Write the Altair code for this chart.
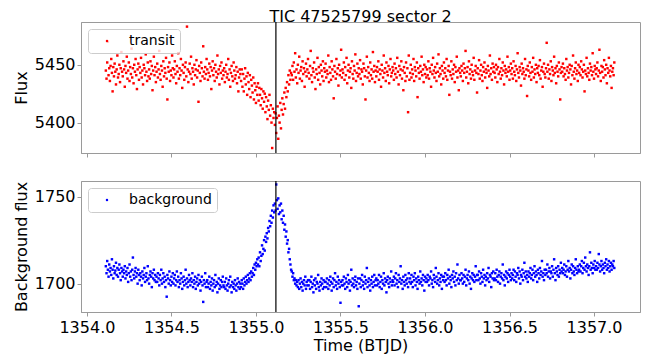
import altair as alt
import pandas as pd

# --- data ---
t_start = 1354.112      # first cadence time (BTJD)
cadence = 0.004         # days between plotted cadences
transit_time = 1355.118 # vertical marker
flux_base = 5400
bg_base = 1680

flux_off = [
    45, 38, 52, 70, 41, 47, 36, 49, 55, 43, 27, 48, 40, 51, 44, 33, 46, 58, 39, 42, 50, 35, 47, 61, 44,
    40, 53, 46, 31, 49, 43, 57, 38, 45, 52, 36, 48, 42, 64, 39, 47, 34, 50, 44, 55, 41, 29, 46, 51, 37,
    48, 43, 56, 39, 45, 33, 50, 47, 41, 59, 44, 36, 52, 40, 46, 38, 53, 42, 49, 28, 45, 57, 41, 48, 35,
    44, 51, 39, 46, 62, 42, 37, 49, 45, 31, 53, 40, 47, 43, 56, 38, 20, 48, 44, 52, 36, 45, 41, 58, 47,
    39, 46, 53, 42, 34, 49, 44, 60, 38, 47, 41, 55, 45, 30, 50, 43, 37, 48, 52, 40, 83, 46, 35, 44, 51,
    42, 57, 38, 47, 44, 33, 50, 41, 46, 54, 39, 45, 18, 49, 43, 36, 52, 47, 40, 66, 44, 38, 48, 42, 55,
    46, 37, 43, 51, 40, 48, 29, 45, 53, 41, 47, 36, 50, 44, 39, 58, 42, 46, 33, 49, 43, 52, 38, 45, 41,
    47, 35, 44, 50, 39, 42, 55, 37, 46, 31, 43, 49, 40, 36, 52, 45, 38, 41, 48, 34, 44, 27, 39, 46, 42,
    36, 46, 31, 42, 27, 38, 47, 33, 40, 24, 43, 35, 29, 41, 22, 37, 32, 26, 39, 20, 34, 28, 17, 31, 24,
    34, 19, 30, 24, 15, 29, 21, 12, 27, 18, 25, 9, 22, 14, 3, 19, 11, 24, 6, 15, 0, -22, 12, 4, 9,
    -2, 8, -9, 4, 14, -14, 6, 0, 17, -5, 11, 21, 7, 16, 26, 12, 30, 22, 35, 27, 41, 33, 45, 37, 43,
    41, 49, 37, 52, 44, 60, 39, 46, 34, 50, 43, 57, 38, 45, 48, 36, 53, 42, 47, 31, 44, 51, 40, 46, 55,
    43, 38, 49, 62, 41, 35, 47, 44, 52, 39, 29, 46, 42, 56, 37, 48, 43, 33, 50, 45, 40, 53, 36, 47, 44,
    51, 39, 45, 42, 58, 35, 48, 43, 37, 53, 46, 40, 21, 49, 44, 38, 55, 42, 47, 32, 50, 41, 45, 63, 39,
    46, 43, 52, 37, 48, 41, 56, 34, 45, 50, 39, 44, 47, 30, 53, 42, 38, 49, 45, 59, 36, 43, 51, 40, 47,
    42, 54, 38, 46, 44, 33, 51, 47, 40, 20, 45, 57, 39, 48, 43, 36, 52, 41, 46, 38, 61, 44, 49, 35, 45,
    40, 48, 44, 53, 37, 46, 42, 31, 50, 45, 39, 58, 43, 47, 36, 52, 44, 41, 49, 34, 46, 55, 40, 43, 48,
    45, 37, 51, 42, 47, 39, 56, 44, 33, 49, 41, 46, 53, 38, 45, 28, 48, 43, 36, 52, 40, 47, 9, 58, 37,
    43, 50, 39, 46, 42, 55, 36, 48, 45, 40, 52, 22, 47, 43, 38, 49, 44, 57, 41, 46, 35, 50, 42, 48, 39,
    46, 41, 53, 38, 47, 44, 31, 50, 42, 56, 45, 39, 48, 43, 36, 51, 44, 59, 40, 47, 42, 33, 49, 45, 38,
    52, 43, 47, 40, 55, 37, 45, 49, 24, 44, 41, 53, 38, 46, 42, 50, 35, 48, 44, 57, 39, 45, 28, 47, 43,
    40, 49, 45, 36, 51, 43, 47, 62, 39, 44, 48, 34, 53, 42, 46, 38, 50, 44, 41, 56, 37, 45, 49, 43, 26,
    47, 42, 54, 38, 45, 50, 41, 36, 48, 44, 52, 39, 46, 43, 30, 49, 45, 40, 58, 42, 47, 37, 51, 44, 48,
    43, 39, 50, 46, 35, 48, 42, 55, 44, 38, 47, 41, 52, 45, 33, 49, 43, 46, 40, 57, 44, 48, 37, 45, 51,
    42, 47, 38, 53, 44, 41, 49, 36, 46, 60, 43, 39, 48, 45, 32, 51, 42, 47, 44, 38, 55, 41, 46, 23, 49,
    45, 40, 52, 43, 37, 48, 44, 56, 39, 46, 42, 50, 35, 47, 43, 49, 41, 54, 38, 45, 48, 31, 44, 51, 42,
    39, 47, 69, 44, 50, 38, 46, 42, 53, 36, 48, 45, 41, 57, 43, 47, 34, 49, 44, 40, 52, 46, 20, 43, 48,
    44, 51, 40, 47, 42, 37, 55, 45, 48, 39, 43, 50, 46, 33, 49, 41, 58, 44, 38, 47, 52, 42, 45, 36, 50,
    43, 48, 41, 53, 46, 39, 44, 50, 27, 45, 42, 56, 40, 47, 43, 37, 51, 45, 48, 41, 60, 44, 38, 49, 46,
    42, 47, 52, 40, 45, 63, 43, 36, 49, 44, 48, 39, 54, 46, 41, 50, 34, 47, 43, 56, 45, 40, 49, 30, 44,
    47, 41, 52,
]

bg_off = [
    30, 26, 33, 28, 24, 31, 27, 29, 25, 34, 28, 23, 30, 26, 27.5, 32, 25, 29, 24, 28, 31, 26, 22, 29, 27,
    24, 28, 26, 30, 23, 27, 25, 29, 21, 26, 31, 24, 27, 22, 28, 35, 25, 23, 27, 29, 24, 26, 20, 28, 25,
    22, 26, 24, 19, 27, 23, 25, 29, 21, 24, 26, 22, 30, 23, 20, 25, 27, 24, 18, 26, 23, 28, 22, 25, 21,
    24, 21, 26, 23, 19, 25, 22, 28, 20, 23, 26, 21, 24, 18, 22, 12.5, 25, 23, 20, 27, 22, 19, 24, 21, 26,
    20, 23, 25, 19, 22, 27, 21, 24, 18, 22, 20, 26, 23, 17, 21, 24, 19, 22, 28, 20, 23, 18, 21, 25, 22,
    19, 23, 21, 26, 18, 22, 20, 24, 17, 21, 23, 19, 25, 20, 22, 16, 21, 24, 19, 9.5, 22, 20, 26, 18, 21,
    22, 18, 20, 24, 17, 21, 19, 23, 16, 20, 22, 18, 25, 19, 21, 15, 20, 23, 17, 19, 22, 18, 21, 24, 19,
    18, 21, 17, 23, 19, 16, 20, 22, 18, 24, 19, 15, 21, 18, 20, 17, 22, 19, 16, 20, 23, 18, 21, 17, 20,
    18, 22, 20, 17, 23, 19, 21, 24, 20, 22, 25, 21, 23, 26, 22, 27, 24, 26, 29, 25, 31, 28, 32, 30, 34,
    31, 35, 30, 38, 33, 36, 42, 37, 40, 45, 39, 47, 44, 49, 46, 52, 50, 56, 53, 59, 55, 62, 58, 65, 61,
    66, 62, 77, 68, 63, 69, 60, 65, 61, 66, 57, 62, 55, 59, 51, 54, 47, 50, 43, 45, 38, 40, 34, 31, 28,
    27, 24, 26, 22, 23, 20, 22, 19, 21, 18, 22, 17, 20, 23, 18, 21, 16, 20, 22, 19, 24, 17, 21, 19, 22,
    19, 22, 17, 21, 24, 18, 20, 15, 22, 19, 23, 17, 21, 20, 25, 18, 16, 21, 19, 23, 20, 17, 22, 18, 21,
    21, 18, 23, 20, 17, 22, 19, 24, 21, 16, 20, 23, 18, 22, 26, 19, 21, 17, 24, 20, 22, 18, 9, 21, 19,
    22, 19, 24, 20, 17, 23, 21, 18, 25, 20, 22, 16, 21, 28, 19, 23, 20, 18, 22, 24, 19, 21, 17, 23, 7,
    20, 23, 18, 22, 25, 19, 21, 17, 24, 20, 22, 29, 18, 21, 23, 19, 16, 22, 20, 24, 18, 21, 25, 19, 22,
    23, 19, 22, 20, 25, 18, 21, 24, 17, 22, 20, 26, 19, 23, 21, 15, 22, 24, 20, 18, 23, 21, 27, 19, 22,
    21, 24, 19, 23, 26, 20, 22, 18, 25, 21, 23, 30, 20, 22, 17, 24, 21, 19, 25, 22, 20, 23, 18, 26, 21,
    23, 20, 25, 21, 18, 24, 22, 26, 19, 23, 21, 17, 24, 22, 20, 27, 21, 23, 19, 25, 22, 16, 24, 21, 23,
    21, 25, 22, 19, 24, 23, 27, 20, 22, 18, 25, 23, 21, 29, 24, 20, 22, 26, 19, 23, 21, 25, 17, 24, 22,
    24, 21, 26, 22, 19, 25, 23, 28, 20, 24, 22, 18, 25, 23, 27, 21, 24, 19, 26, 22, 31, 23, 20, 25, 22,
    22, 26, 23, 20, 25, 21, 24, 28, 19, 23, 25, 22, 27, 20, 24, 17, 23, 26, 22, 25, 21, 24, 30, 22, 25,
    25, 22, 27, 23, 20, 26, 24, 21, 28, 23, 25, 19, 24, 22, 26, 23, 29, 21, 25, 24, 18, 26, 23, 27, 22,
    23, 26, 22, 28, 24, 21, 25, 27, 20, 24, 26, 23, 31, 22, 25, 19, 24, 27, 23, 26, 21, 25, 28, 24, 22,
    26, 23, 25, 28, 22, 27, 24, 21, 26, 25, 29, 23, 27, 20, 25, 24, 28, 22, 26, 32, 24, 27, 23, 25, 21,
    27, 24, 26, 29, 23, 25, 28, 22, 26, 30, 24, 27, 25, 21, 28, 26, 23, 29, 25, 27, 33, 24, 26, 22, 28,
    25, 28, 26, 31, 24, 27, 29, 23, 27, 26, 30, 24, 28, 34, 26, 22, 29, 27, 25, 30, 24, 28, 26, 32, 27,
    29, 26, 28, 31, 25, 27, 30, 24, 28, 33, 27, 29, 23, 28, 31, 26, 30, 27, 25, 29, 34, 28, 26, 30, 27,
    28, 31, 27, 30, 33, 26, 29, 32, 28, 35, 30, 27, 31, 29, 25, 30, 38, 28, 32, 29, 26, 31, 29, 33, 28,
    30, 28, 32, 29, 37, 31, 27, 30, 33, 28, 31, 29, 26, 32, 30, 34, 28, 31, 29, 33, 27, 30, 32, 28, 31,
    30, 33, 29,
]

x_ticks = [1354.0, 1354.5, 1355.0, 1355.5, 1356.0, 1356.5, 1357.0]
flux_ticks = [5400, 5450]
bg_ticks = [1700, 1750]

n = min(len(flux_off), len(bg_off))
times = [round(t_start + cadence * i, 4) for i in range(n)]

df_top = pd.DataFrame({
    "time": times,
    "value": [flux_base + v for v in flux_off[:n]],
    "series": ["transit"] * n,
})
df_bot = pd.DataFrame({
    "time": times,
    "value": [bg_base + v for v in bg_off[:n]],
    "series": ["background"] * n,
})
df_line = pd.DataFrame({"time": [transit_time]})

FONT = "DejaVu Sans"
GRAY = "#9a9a9a"
W, H = 559, 131
x_scale = alt.Scale(domain=[1353.965, 1357.272], nice=False, zero=False)

legend_common = dict(
    orient="top-left", title=None, offset=7, padding=5,
    fillColor="rgba(255,255,255,0.8)", strokeColor="#cccccc", cornerRadius=3,
    labelFontSize=14, labelFont=FONT, labelColor="black",
    symbolType="circle", symbolSize=6, symbolOffset=7, labelOffset=15,
    symbolStrokeWidth=0,
)

def panel(df, color, y_domain, y_ticks, y_title, show_x_labels):
    x_axis = alt.Axis(
        values=x_ticks, labels=show_x_labels, format=".1f",
        title="Time (BTJD)" if show_x_labels else None,
        grid=False, tickSize=4, labelPadding=3, titlePadding=2,
        labelFont=FONT, labelFontSize=16, labelColor="black",
        titleFont=FONT, titleFontSize=16, titleFontWeight="normal", titleColor="black",
        domainColor=GRAY, tickColor=GRAY,
    )
    y_axis = alt.Axis(
        values=y_ticks, title=y_title, grid=False, tickSize=4, labelPadding=2,
        titlePadding=5, format="d",
        labelFont=FONT, labelFontSize=16, labelColor="black",
        titleFont=FONT, titleFontSize=16, titleFontWeight="normal", titleColor="black",
        domainColor=GRAY, tickColor=GRAY,
    )
    pts = alt.Chart(df).mark_square(size=6, opacity=1).encode(
        x=alt.X("time:Q", scale=x_scale, axis=x_axis),
        y=alt.Y("value:Q",
                scale=alt.Scale(domain=y_domain, nice=False, zero=False),
                axis=y_axis),
        color=alt.Color("series:N",
                        scale=alt.Scale(domain=[df["series"][0]], range=[color]),
                        legend=alt.Legend(**legend_common)),
    )
    rule = alt.Chart(df_line).mark_rule(color="black", strokeWidth=1.2).encode(
        x=alt.X("time:Q", scale=x_scale)
    )
    return alt.layer(pts, rule).properties(width=W, height=H)

top = panel(df_top, "#ff0000", [5373.7, 5487], flux_ticks, "Flux", False)
bot = panel(df_bot, "#0000ff", [1683.7, 1759], bg_ticks, "Background flux", True)

chart = alt.vconcat(top, bot, spacing=28, bounds="flush").resolve_scale(
    color="independent"
).resolve_legend(color="independent").properties(
    title=alt.TitleParams("TIC 47525799 sector 2", fontSize=16, font=FONT,
                          fontWeight="normal", color="black", anchor="middle",
                          frame="group", offset=-4),
    padding={"left": 4, "top": 0, "right": 5, "bottom": 5},
).configure_view(
    stroke=GRAY, strokeWidth=1
).configure_title(
    fontSize=16, font=FONT, fontWeight="normal", color="black"
)

chart.save("out.html", embed_options={"renderer": "svg", "actions": False})
